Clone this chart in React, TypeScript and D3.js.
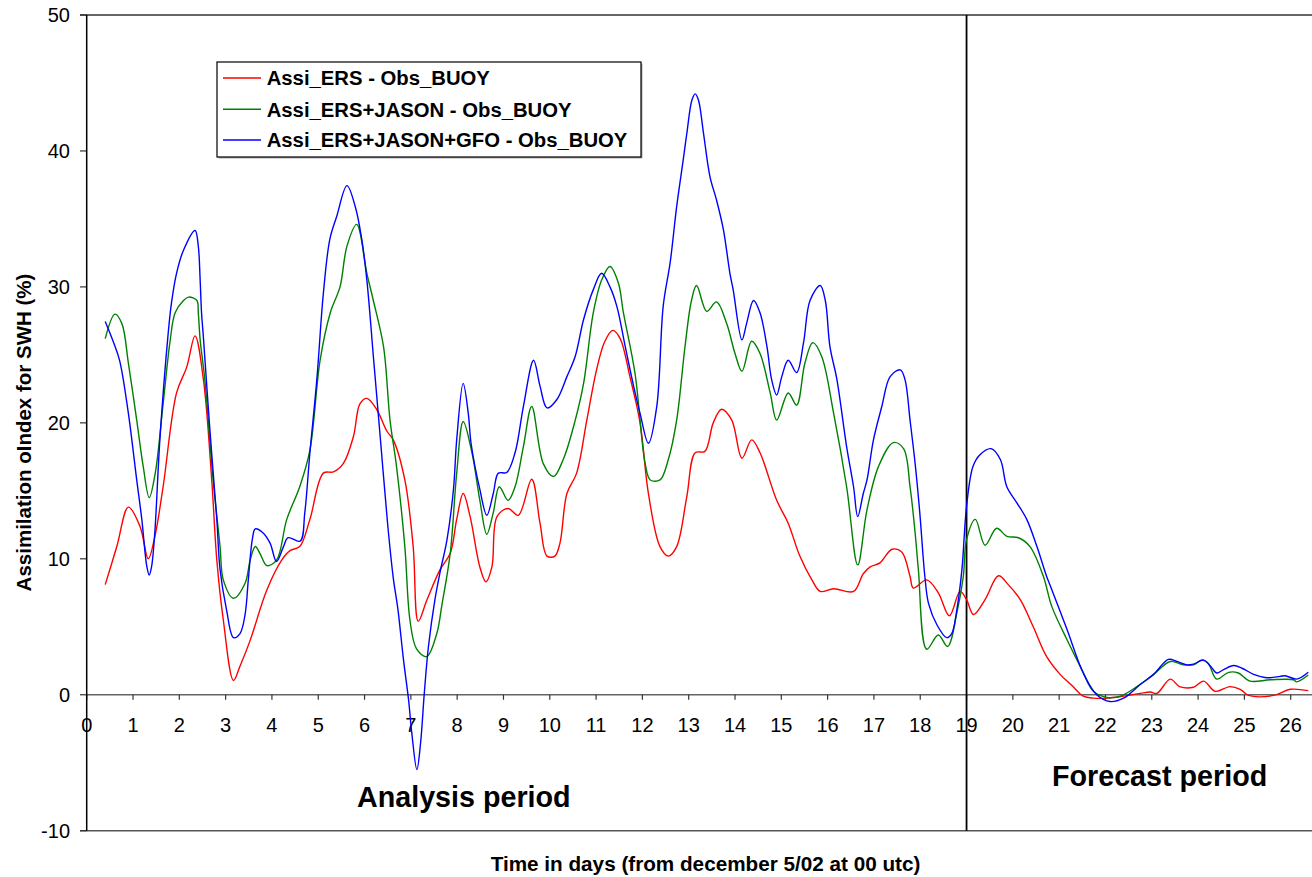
import React from "react";
import * as d3 from "d3";

const W = 1312;
const H = 877;

const xTicks = d3.range(0, 27);
const yTicks = [-10, 0, 10, 20, 30, 40, 50];

const seriesNames = [
  "Assi_ERS - Obs_BUOY",
  "Assi_ERS+JASON - Obs_BUOY",
  "Assi_ERS+JASON+GFO - Obs_BUOY",
];
const seriesColors = ["#ff0000", "#008000", "#0000ff"];

const redData: [number, number][] = [
  [0.4, 8.1], [0.65, 10.9], [0.9, 13.8], [1.15, 12.4], [1.33, 10.0], [1.47, 11.6], [1.65, 15.3],
  [1.94, 22.2], [2.16, 24.1], [2.34, 26.4], [2.52, 23.2], [2.7, 15.8], [2.81, 9.9], [2.95, 5.5],
  [3.17, 1.05], [3.31, 2.1], [3.53, 4.0], [3.89, 7.7], [4.21, 9.9], [4.39, 10.6], [4.6, 10.9],
  [4.82, 12.9], [5.11, 16.3], [5.33, 16.4], [5.54, 17.0], [5.76, 19.0], [5.9, 21.4], [6.05, 21.8],
  [6.26, 21.0], [6.48, 19.4], [6.62, 18.75], [6.87, 15.8], [7.05, 10.9], [7.16, 5.4], [7.35, 7.0],
  [7.63, 9.2], [7.85, 10.4], [7.99, 12.9], [8.13, 14.8], [8.28, 13.1], [8.49, 9.4], [8.62, 8.3],
  [8.75, 9.4], [8.86, 13.1], [9.1, 13.7], [9.32, 13.2], [9.61, 15.85], [9.79, 12.6], [9.94, 10.2],
  [10.11, 10.2], [10.22, 11.15], [10.37, 14.8], [10.58, 16.3], [10.8, 20.2], [11.01, 23.9],
  [11.19, 26.0], [11.36, 26.8], [11.52, 26.2], [11.73, 23.4], [11.95, 20.0], [12.13, 14.8],
  [12.38, 10.9], [12.56, 10.2], [12.74, 10.9], [12.96, 14.6], [13.14, 17.8], [13.35, 17.9],
  [13.53, 20.0], [13.71, 21.0], [13.93, 20.2], [14.15, 17.4], [14.36, 18.75], [14.54, 17.8],
  [14.9, 14.3], [15.15, 12.6], [15.4, 10.2], [15.66, 8.45], [15.84, 7.6], [16.13, 7.8],
  [16.56, 7.6], [16.77, 8.9], [16.92, 9.4], [17.13, 9.7], [17.39, 10.7], [17.6, 10.5],
  [17.78, 8.7], [17.85, 7.85], [18.14, 8.45], [18.39, 7.5], [18.63, 5.8], [18.86, 7.6],
  [19.0, 7.0], [19.15, 5.9], [19.4, 7.0], [19.69, 8.75], [19.9, 8.1], [20.16, 7.0], [20.44, 5.0],
  [20.73, 2.8], [21.02, 1.5], [21.27, 0.7], [21.52, -0.1], [21.74, -0.25], [22.03, -0.25],
  [22.39, -0.1], [22.75, 0.1], [22.97, 0.2], [23.11, 0.1], [23.4, 1.15], [23.6, 0.6], [23.9, 0.55],
  [24.12, 1.0], [24.37, 0.25], [24.69, 0.6], [24.91, 0.4], [25.09, -0.05], [25.63, -0.05],
  [25.99, 0.4], [26.38, 0.3],
];

const greenData: [number, number][] = [
  [0.4, 26.2], [0.61, 28.0], [0.76, 27.3], [0.9, 24.4], [1.08, 20.2], [1.22, 16.8], [1.35, 14.5],
  [1.48, 16.3], [1.65, 21.4], [1.8, 26.0], [1.91, 28.1], [2.09, 29.0], [2.2, 29.25], [2.38, 29.0],
  [2.41, 28.1], [2.45, 26.1], [2.55, 23.2], [2.73, 15.8], [2.88, 10.9], [2.95, 8.45], [3.17, 7.1],
  [3.42, 8.2], [3.53, 9.9], [3.64, 10.9], [3.74, 10.4], [3.89, 9.5], [4.1, 9.9], [4.32, 12.9],
  [4.6, 15.3], [4.82, 18.0], [5.04, 24.6], [5.26, 28.1], [5.47, 30.0], [5.62, 33.0], [5.83, 34.6],
  [6.05, 31.0], [6.19, 29.0], [6.41, 25.6], [6.55, 20.2], [6.69, 16.8], [6.87, 10.9], [6.98, 5.5],
  [7.12, 3.4], [7.34, 2.8], [7.56, 4.5], [7.67, 6.6], [7.85, 10.4], [7.99, 16.3], [8.13, 20.1],
  [8.32, 17.8], [8.49, 14.3], [8.64, 11.8], [8.78, 13.4], [8.91, 15.3], [9.1, 14.3], [9.25, 15.3],
  [9.43, 18.25], [9.61, 21.2], [9.86, 17.0], [10.08, 16.05], [10.29, 17.3], [10.55, 20.2],
  [10.73, 22.9], [10.94, 28.1], [11.12, 30.5], [11.3, 31.5], [11.48, 30.3], [11.59, 28.1],
  [11.84, 23.65], [12.06, 17.0], [12.17, 15.8], [12.38, 15.8], [12.56, 17.3], [12.74, 20.2],
  [12.92, 25.6], [13.06, 29.0], [13.17, 30.1], [13.39, 28.2], [13.6, 28.9], [13.82, 27.3],
  [14.0, 25.1], [14.15, 23.8], [14.36, 26.0], [14.54, 25.1], [14.76, 22.2], [14.9, 20.2],
  [15.15, 22.2], [15.33, 21.3], [15.51, 24.4], [15.68, 25.9], [15.87, 24.9], [16.13, 20.7],
  [16.41, 15.3], [16.65, 9.55], [16.85, 13.6], [17.1, 16.8], [17.42, 18.55], [17.64, 18.1],
  [17.78, 15.3], [17.89, 11.9], [17.96, 9.2], [18.14, 3.35], [18.39, 4.4], [18.59, 3.55],
  [18.79, 6.0], [18.93, 8.7], [19.0, 11.4], [19.19, 12.9], [19.4, 11.0], [19.65, 12.25],
  [19.87, 11.65], [20.12, 11.55], [20.37, 10.9], [20.66, 8.7], [20.84, 6.5], [21.17, 4.05],
  [21.49, 1.85], [21.74, 0.25], [22.03, -0.2], [22.32, -0.1], [22.68, 0.6], [23.04, 1.5],
  [23.4, 2.45], [23.68, 2.2], [23.9, 2.2], [24.08, 2.55], [24.22, 2.3], [24.4, 1.15],
  [24.66, 1.65], [24.87, 1.6], [25.12, 1.0], [25.56, 1.1], [26.06, 1.1], [26.13, 0.95],
  [26.38, 1.45],
];

const blueData: [number, number][] = [
  [0.4, 27.45], [0.57, 26.0], [0.71, 24.6], [0.9, 20.7], [1.08, 15.8], [1.19, 12.9], [1.3, 9.4],
  [1.35, 8.8], [1.4, 9.4], [1.47, 11.9], [1.58, 18.75], [1.76, 26.6], [1.83, 28.8], [1.94, 31.0],
  [2.09, 32.7], [2.34, 34.15], [2.41, 33.0], [2.45, 30.5], [2.48, 28.1], [2.52, 26.3],
  [2.66, 19.5], [2.81, 12.9], [2.88, 9.2], [3.02, 6.25], [3.17, 4.2], [3.31, 4.5], [3.42, 5.9],
  [3.49, 8.45], [3.58, 11.5], [3.64, 12.2], [3.81, 11.9], [3.96, 11.15], [4.1, 9.8], [4.25, 10.9],
  [4.35, 11.55], [4.61, 11.3], [4.71, 13.4], [4.82, 17.8], [4.97, 23.2], [5.11, 29.5],
  [5.25, 33.5], [5.4, 35.2], [5.62, 37.45], [5.8, 35.9], [5.94, 33.5], [6.05, 30.5],
  [6.2, 24.5], [6.35, 18.5], [6.5, 12.5], [6.62, 8.6], [6.72, 6.3], [6.84, 2.6],
  [6.95, -0.35], [7.02, -2.8], [7.13, -5.5], [7.21, -3.55], [7.29, 0.1], [7.38, 3.55],
  [7.52, 7.0], [7.63, 9.0], [7.78, 11.4], [7.92, 15.1], [7.99, 18.75], [8.13, 22.9], [8.24, 20.7],
  [8.3, 18.5], [8.49, 15.1], [8.64, 13.2], [8.78, 14.8], [8.89, 16.3], [9.07, 16.35], [9.25, 17.8],
  [9.43, 21.2], [9.65, 24.6], [9.79, 22.7], [9.94, 21.1], [10.15, 21.7], [10.37, 23.4],
  [10.55, 24.9], [10.73, 27.6], [10.94, 29.8], [11.12, 31.0], [11.3, 30.0], [11.45, 28.55],
  [11.63, 25.6], [11.81, 22.7], [11.95, 20.7], [12.13, 18.5], [12.31, 21.2], [12.45, 28.6],
  [12.6, 31.8], [12.74, 35.9], [12.88, 39.3], [12.96, 41.3], [13.07, 43.75], [13.14, 44.2],
  [13.21, 43.75], [13.32, 41.3], [13.46, 38.1], [13.6, 36.4], [13.75, 34.2], [13.89, 31.0],
  [13.96, 29.8], [14.15, 26.1], [14.25, 27.3], [14.4, 29.0], [14.54, 28.1], [14.69, 25.6],
  [14.79, 23.2], [14.9, 22.05], [15.01, 23.4], [15.15, 24.6], [15.33, 23.7], [15.48, 25.9],
  [15.62, 29.0], [15.84, 30.1], [15.95, 29.0], [16.05, 25.6], [16.2, 23.2], [16.41, 18.25],
  [16.56, 15.3], [16.65, 13.1], [16.77, 14.8], [16.85, 15.8], [16.99, 18.75], [17.17, 21.2],
  [17.35, 23.4], [17.57, 23.9], [17.67, 23.2], [17.78, 20.2], [17.89, 17.0], [17.99, 13.4],
  [18.1, 8.7], [18.18, 6.7], [18.36, 5.15], [18.57, 4.2], [18.68, 4.5], [18.79, 6.25],
  [18.9, 9.2], [19.0, 13.85], [19.14, 16.8], [19.29, 17.65], [19.53, 18.1], [19.73, 17.3],
  [19.87, 15.3], [20.09, 14.1], [20.3, 12.9], [20.52, 10.9], [20.73, 8.7], [20.81, 8.0],
  [21.17, 4.8], [21.52, 1.6], [21.81, 0.0], [22.1, -0.5], [22.39, -0.25], [22.75, 0.75],
  [23.04, 1.5], [23.36, 2.6], [23.54, 2.45], [23.76, 2.2], [23.9, 2.25], [24.12, 2.55],
  [24.27, 2.1], [24.4, 1.6], [24.55, 1.85], [24.77, 2.15], [24.95, 1.95], [25.2, 1.5],
  [25.48, 1.25], [25.77, 1.35], [25.88, 1.4], [26.13, 1.15], [26.38, 1.65],
];

const allSeries = [redData, greenData, blueData];

const FONT = "'Liberation Sans', Arial, Helvetica, sans-serif";

export default function App() {
  const x = d3.scaleLinear().domain([0, 26.46]).range([86.7, 1312]);
  const y = d3.scaleLinear().domain([-10, 50]).range([830.7, 15]);
  const line = d3
    .line<[number, number]>()
    .x((d) => x(d[0]))
    .y((d) => y(d[1]))
    .curve(d3.curveCatmullRom.alpha(0.5));

  const left = x(0);
  const right = W;
  const zeroY = y(0);
  const forecastX = x(19);

  const legendX = 217;
  const legendY = 62;
  const legendW = 424;
  const legendH = 95;
  const legendRows = [78, 109.3, 140];

  return (
    <svg
      width={W}
      height={H}
      viewBox={`0 0 ${W} ${H}`}
      style={{ position: "absolute", left: 0, top: 0, display: "block", background: "#fff" }}
      fontFamily={FONT}
    >
      <rect x={0} y={0} width={W} height={H} fill="#fff" />
      {/* frame lines */}
      <line x1={80} x2={right} y1={y(50)} y2={y(50)} stroke="#333" strokeWidth={1.5} />
      <line x1={80} x2={right} y1={y(-10)} y2={y(-10)} stroke="#555" strokeWidth={1.5} />
      <line x1={left} x2={right} y1={zeroY} y2={zeroY} stroke="#666" strokeWidth={1.5} />
      {/* y ticks */}
      {yTicks.map((t) => (
        <g key={`yt${t}`}>
          <line x1={80} x2={left} y1={y(t)} y2={y(t)} stroke="#333" strokeWidth={1.2} />
          <text
            x={70}
            y={y(t)}
            dy="0.36em"
            textAnchor="end"
            fontSize={20}
            fill="#000"
          >
            {t}
          </text>
        </g>
      ))}
      {/* x ticks */}
      {xTicks.map((t) => (
        <g key={`xt${t}`}>
          <line x1={x(t)} x2={x(t)} y1={zeroY} y2={zeroY + 5} stroke="#333" strokeWidth={1.2} />
          <text x={x(t)} y={731.5} textAnchor="middle" fontSize={20} fill="#000">
            {t}
          </text>
        </g>
      ))}
      {/* left axis */}
      <line x1={left} x2={left} y1={y(50)} y2={y(-10)} stroke="#000" strokeWidth={1.5} />
      {/* forecast separator */}
      <line x1={forecastX} x2={forecastX} y1={y(50)} y2={y(-10)} stroke="#000" strokeWidth={1.8} />

      {/* series */}
      {allSeries.map((s, i) => (
        <path
          key={`s${i}`}
          d={line(s) || ""}
          fill="none"
          stroke={seriesColors[i]}
          strokeWidth={1.4}
          strokeLinejoin="round"
        />
      ))}

      {/* legend */}
      <rect x={legendX + 1.5} y={legendY + 1.5} width={legendW} height={legendH} fill="#aaa" />
      <rect
        x={legendX}
        y={legendY}
        width={legendW}
        height={legendH}
        fill="#fff"
        stroke="#000"
        strokeWidth={1.2}
      />
      {seriesNames.map((n, i) => (
        <g key={`lg${i}`}>
          <line
            x1={223}
            x2={261}
            y1={legendRows[i]}
            y2={legendRows[i]}
            stroke={seriesColors[i]}
            strokeWidth={1.4}
          />
          <text x={266.7} y={legendRows[i] + 7.2} fontSize={20.3} fontWeight="bold" fill="#000">
            {n}
          </text>
        </g>
      ))}

      {/* period annotations */}
      <text x={357} y={806.5} fontSize={28.7} fontWeight="bold" fill="#000">
        Analysis period
      </text>
      <text x={1052} y={786} fontSize={28.7} fontWeight="bold" fill="#000">
        Forecast period
      </text>

      {/* axis titles */}
      <text x={705.5} y={871} textAnchor="middle" fontSize={20.7} fontWeight="bold" fill="#000">
        Time in days (from december 5/02 at 00 utc)
      </text>
      <text
        transform={`translate(30.5, 432.5) rotate(-90)`}
        textAnchor="middle"
        fontSize={20.5}
        fontWeight="bold"
        fill="#000"
      >
        Assimilation oIndex for SWH (%)
      </text>
    </svg>
  );
}
